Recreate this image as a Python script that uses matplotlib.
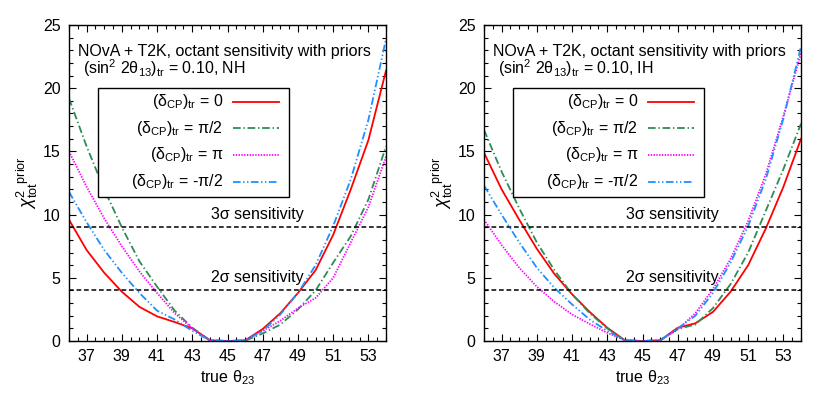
#!/usr/bin/env python3
"""Octant sensitivity with priors, NOvA + T2K, NH and IH panels."""
import matplotlib
matplotlib.use("Agg")
import matplotlib.pyplot as plt
from matplotlib.lines import Line2D
from matplotlib.patches import Rectangle
from matplotlib.ticker import MultipleLocator

FS = 11.5

plt.rcParams.update({
    "font.family": ["Liberation Sans", "DejaVu Sans"],
    "font.size": FS,
    "mathtext.fontset": "custom",
    "mathtext.rm": "Liberation Sans",
    "mathtext.it": "Liberation Sans:italic",
    "lines.scale_dashes": False,
})

theta = [36, 37, 38, 39, 40, 41, 42, 43, 44, 45, 46, 47, 48, 49, 50, 51, 52, 53, 54]

# NH, (sin^2 2theta13)_tr = 0.10
nh_0      = [9.6, 7.2, 5.4, 3.9, 2.7, 1.95, 1.5, 1.0, 0.05, 0.0, 0.05, 0.95, 2.2, 3.8, 5.6, 8.4, 12.0, 15.9, 21.4]
nh_pi2    = [19.2, 15.4, 12.0, 9.0, 6.3, 4.3, 2.4, 1.05, 0.05, 0.0, 0.02, 0.6, 1.3, 2.5, 4.0, 6.2, 8.3, 11.2, 15.4]
nh_pi     = [15.0, 12.2, 9.7, 7.5, 5.5, 3.8, 2.2, 1.0, 0.05, 0.0, 0.05, 0.8, 1.6, 2.6, 3.4, 5.0, 7.8, 10.6, 14.6]
nh_mpi2   = [11.8, 9.4, 7.2, 5.4, 3.8, 2.4, 1.7, 0.8, 0.05, 0.0, 0.05, 0.8, 2.1, 3.8, 6.0, 9.1, 12.8, 17.5, 23.9]

# IH, (sin^2 2theta13)_tr = 0.10
ih_0      = [14.9, 12.0, 9.6, 7.3, 5.3, 3.7, 2.3, 1.05, 0.05, 0.0, 0.05, 1.05, 1.4, 2.3, 3.9, 6.0, 8.9, 12.2, 16.0]
ih_pi2    = [16.7, 13.4, 10.5, 7.8, 5.6, 3.7, 2.2, 1.0, 0.05, 0.0, 0.05, 0.95, 1.3, 2.6, 4.5, 7.0, 10.3, 13.6, 17.2]
ih_pi     = [9.6, 7.6, 5.8, 4.3, 3.1, 2.1, 1.35, 0.65, 0.05, 0.0, 0.05, 0.9, 2.2, 4.1, 6.5, 9.5, 13.2, 17.8, 22.8]
ih_mpi2   = [12.3, 10.0, 7.8, 5.8, 4.2, 2.9, 1.7, 0.8, 0.05, 0.0, 0.05, 1.0, 2.0, 3.8, 6.2, 9.1, 12.8, 17.6, 23.3]

labels = [r"(δ$_{\mathrm{CP}}$)$_{\mathrm{tr}}$ = 0",
          r"(δ$_{\mathrm{CP}}$)$_{\mathrm{tr}}$ = π/2",
          r"(δ$_{\mathrm{CP}}$)$_{\mathrm{tr}}$ = π",
          r"(δ$_{\mathrm{CP}}$)$_{\mathrm{tr}}$ = -π/2"]
styles = [dict(color="#ff0000", ls="-"),
          dict(color="#2e8b57", ls=(0, (5.5, 2.0, 1.0, 2.0))),
          dict(color="#ff00ff", ls=(0, (1.0, 1.0))),
          dict(color="#1e90ff", ls=(0, (5.5, 1.8, 1.0, 1.8, 1.0, 1.8)))]

sens_levels = [9, 4]
sens_labels = ["3σ sensitivity", "2σ sensitivity"]

panels = [("NH", [nh_0, nh_pi2, nh_pi, nh_mpi2]),
          ("IH", [ih_0, ih_pi2, ih_pi, ih_mpi2])]

fig = plt.figure(figsize=(8.3, 4.15), dpi=100)
lefts = [0.0831, 0.5831]

for left, (hier, series) in zip(lefts, panels):
    ax = fig.add_axes([left, 0.1783, 0.382, 0.7615])
    for y, st in zip(series, styles):
        ax.plot(theta, y, lw=1.3, **st)
    for lev, txt in zip(sens_levels, sens_labels):
        ax.axhline(lev, color="black", lw=1.1, ls=(0, (3.4, 2.0)))
        ax.text(44.05, lev + 1.0, txt, ha="left", va="center", fontsize=FS)

    ax.set_xlim(36, 54)
    ax.set_ylim(0, 25)
    ax.xaxis.set_major_locator(MultipleLocator(2, offset=1))
    ax.xaxis.set_minor_locator(MultipleLocator(0.5))
    ax.yaxis.set_major_locator(MultipleLocator(5))
    ax.yaxis.set_minor_locator(MultipleLocator(1))
    ax.tick_params(which="both", direction="in", top=True, right=True, labelsize=FS)
    ax.tick_params(which="major", length=5, width=0.8)
    ax.tick_params(which="minor", length=3, width=0.8)
    ax.tick_params(axis="x", pad=6)
    ax.tick_params(axis="y", pad=6)
    for sp in ax.spines.values():
        sp.set_linewidth(1.0)

    ax.set_xlabel(r"true θ$_{23}$", fontsize=FS, labelpad=3)
    ax.set_ylabel(r"$\chi^{2}_{\mathrm{tot}}{}^{\mathrm{prior}}$", fontsize=13, labelpad=2)

    ax.text(0.03, 0.915, "NOvA + T2K, octant sensitivity with priors",
            transform=ax.transAxes, ha="left", va="center", fontsize=FS)
    ax.text(0.043, 0.862, r"(sin$^{2}$ 2θ$_{13}$)$_{\mathrm{tr}}$ = 0.10, " + hier,
            transform=ax.transAxes, ha="left", va="center", fontsize=FS)

    # legend box, drawn by hand so the labels are right-aligned as in gnuplot
    ax.add_patch(Rectangle((0.0905, 0.457), 0.605, 0.343, transform=ax.transAxes,
                           facecolor="white", edgecolor="black", lw=1.0, zorder=5))
    rows = [0.757, 0.673, 0.589, 0.504]
    for yr, lab, st in zip(rows, labels, styles):
        ax.text(0.487, yr, lab, transform=ax.transAxes, ha="right", va="center",
                fontsize=FS, zorder=6)
        ax.add_line(Line2D([0.518, 0.663], [yr, yr], transform=ax.transAxes,
                           lw=1.3, zorder=6, **st))

fig.savefig("out.png", dpi=100)
